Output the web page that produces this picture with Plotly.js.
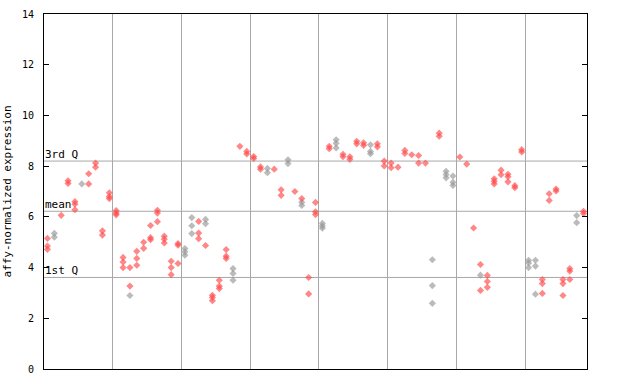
<!DOCTYPE html>
<html>
<head>
<meta charset="utf-8">
<script src="https://cdn.plot.ly/plotly-3.0.1.min.js"></script>
<style>html,body{margin:0;padding:0;background:#fff;}#chart{width:640px;height:384px;}</style>
</head>
<body>
<div id="chart"></div>
<script>
// Per-sample expression values (sample 1..79), red points
const redValues = [
  [5.15,4.85,4.72], [], [6.06], [7.42,7.32], [6.6,6.5,6.28],
  [], [7.7,7.3], [8.12,7.96], [5.45,5.28], [6.95,6.8,6.72],
  [6.25,6.15,6.08], [4.4,4.22,4.0], [4.0,3.27], [4.64,4.36,4.09], [5.0,4.76],
  [5.66,5.18,5.10], [6.26,6.15,5.81], [5.24,5.12,4.97], [4.25,4.0,3.72], [4.95,4.88,4.16],
  [], [], [5.82,5.36,5.14], [4.87], [2.91,2.82,2.69],
  [3.5,3.27,3.17], [4.71,4.45,4.36], [], [8.78], [8.58,8.48],
  [8.38,8.3], [7.97,7.88], [], [7.88], [7.07,6.85],
  [], [7.0], [6.72], [3.61,2.96], [6.57,6.2,6.09],
  [], [8.78,8.69], [], [8.47,8.37], [8.37,8.27],
  [8.98,8.88], [8.92,8.82], [], [8.88,8.76], [8.2,8.01],
  [8.12,7.94], [7.96], [8.62,8.5], [8.45], [8.42,8.12],
  [8.12], [], [9.3,9.18], [], [],
  [8.36], [8.08], [5.56], [4.12,3.1], [3.69,3.45,3.22],
  [7.5,7.4,7.3], [7.84,7.66], [7.68,7.58,7.38], [7.23,7.15], [8.65,8.56],
  [], [], [3.53,3.37,2.98], [6.91,6.65], [7.1,7.02],
  [3.53,3.37,2.9], [3.96,3.86,3.53], [], [6.22,6.13]
];
// Per-sample expression values, grey points
const greyValues = [
  [], [5.35,5.2], [], [], [],
  [7.3], [], [], [], [],
  [], [], [2.9], [], [],
  [], [], [], [], [],
  [4.75,4.62,4.49], [5.97,5.65,5.34], [], [5.9,5.73], [],
  [], [], [3.96,3.77,3.5], [], [],
  [], [], [7.91,7.74], [], [],
  [8.25,8.1], [], [6.58,6.45], [], [],
  [5.74,5.64,5.55], [], [9.04,8.9,8.72], [], [],
  [], [], [8.84,8.58,8.49], [], [],
  [], [], [], [], [],
  [], [4.31,3.29,2.59], [], [7.8,7.67,7.54], [7.61,7.36,7.24],
  [], [], [], [3.7], [],
  [], [], [], [], [],
  [4.29,4.18,4.0], [4.29,4.06,2.95], [], [], [],
  [], [], [6.05,5.77], []
];
const groupBounds = [10, 20, 30, 40, 50, 60, 70];
const statLabels = ["3rd Q", "mean", "1st Q"];
const statValues = [8.2, 6.22, 3.61];
const yTicks = [0, 2, 4, 6, 8, 10, 12, 14];

function flatten(vals) {
  const xs = [], ys = [];
  vals.forEach((arr, i) => arr.forEach(v => { xs.push(i + 0.5); ys.push(v); }));
  return {xs, ys};
}
const r = flatten(redValues), g = flatten(greyValues);
const mono = "DejaVu Sans Mono, monospace";

const traces = [
  {x: g.xs, y: g.ys, type: 'scatter', mode: 'markers', hoverinfo: 'none',
   marker: {symbol: 'diamond', size: 5.5, color: 'rgba(150,150,150,0.65)', line: {width: 0}}},
  {x: r.xs, y: r.ys, type: 'scatter', mode: 'markers', hoverinfo: 'none',
   marker: {symbol: 'diamond', size: 5.5, color: 'rgba(255,70,70,0.65)', line: {width: 0}}}
];

const shapes = statValues.map(v => ({
  type: 'line', xref: 'paper', x0: 0, x1: 1, yref: 'y', y0: v, y1: v,
  line: {color: '#a8a8a8', width: 1}, layer: 'below'
}));
const annotations = statValues.map((v, i) => ({
  xref: 'paper', x: 0, xanchor: 'left', yref: 'y', y: v, yanchor: 'bottom',
  text: statLabels[i], showarrow: false, font: {family: mono, size: 11, color: '#000'},
  borderpad: 0, yshift: -1
}));

const layout = {
  width: 640, height: 384,
  margin: {l: 44, r: 53, t: 14, b: 15, pad: 0},
  paper_bgcolor: '#fff', plot_bgcolor: '#fff',
  showlegend: false,
  xaxis: {range: [0, 79], tickvals: groupBounds, showticklabels: false, ticks: '',
          showgrid: true, gridcolor: '#a8a8a8', gridwidth: 1, zeroline: false,
          showline: true, linecolor: '#000', linewidth: 1, mirror: true, fixedrange: true},
  yaxis: {range: [0, 14], tickvals: yTicks, ticktext: yTicks.map(String), ticks: 'inside', ticklen: 5,
          tickcolor: '#000', showgrid: false, zeroline: false,
          showline: true, linecolor: '#000', linewidth: 1, mirror: 'ticks',
          tickfont: {family: mono, size: 10, color: '#000'}, ticklabelstandoff: 7,
          title: {text: 'affy-normalized expression', font: {family: mono, size: 11, color: '#000'}, standoff: 8},
          fixedrange: true},
  shapes: shapes,
  annotations: annotations
};

Plotly.newPlot('chart', traces, layout, {staticPlot: true, displayModeBar: false});
</script>
</body>
</html>
